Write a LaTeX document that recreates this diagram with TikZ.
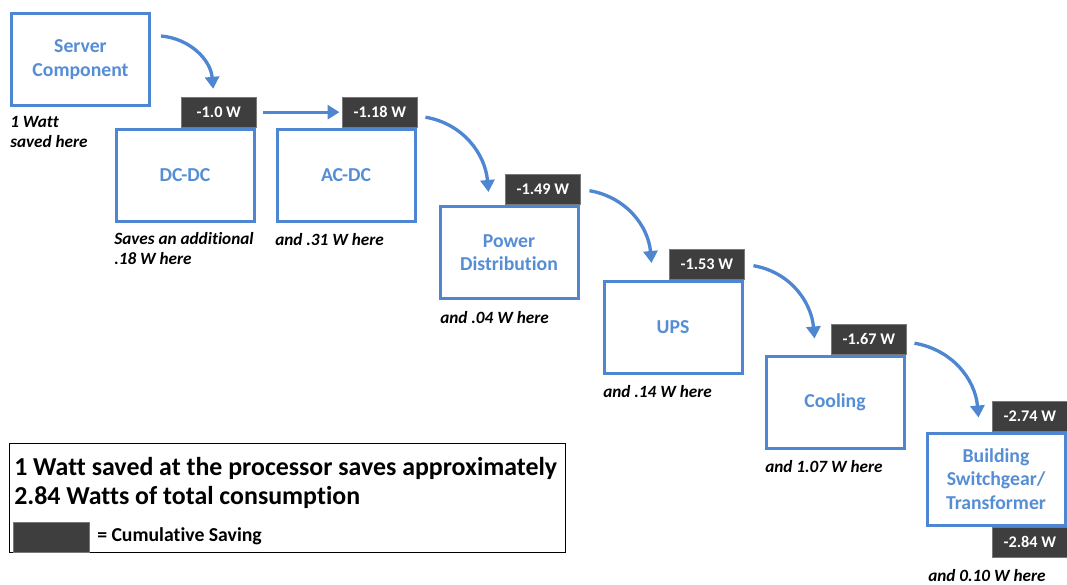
\documentclass[tikz,border=0pt]{standalone}
\usepackage{fontspec}
\setmainfont{Carlito}[Ligatures=NoCommon]
\usetikzlibrary{arrows.meta}
\definecolor{stageblue}{RGB}{79,134,210}
\definecolor{stagetext}{RGB}{86,142,214}
\definecolor{tagfill}{RGB}{62,62,62}
\definecolor{tagedge}{RGB}{120,120,120}
\tikzset{
  stage/.style={draw=stageblue, line width=2.25pt, fill=white,
    minimum width=103.5pt, minimum height=69pt, inner sep=2pt, align=center,
    text=stagetext, font=\fontsize{14.8}{17.6}\selectfont\bfseries},
  tag/.style={draw=tagedge, line width=0.5pt, fill=tagfill,
    minimum width=56pt, minimum height=22.5pt, inner sep=0pt,
    text=white, font=\fontsize{12.2}{14}\selectfont\bfseries},
  note/.style={inner sep=0pt, align=left, anchor=west,
    font=\fontsize{12.9}{15}\selectfont\bfseries\itshape},
  flow/.style={draw=stageblue, line width=2.5pt,
    -{Triangle[width=10.5pt,length=9pt]}},
  dropcurve/.style={out=-10, in=95},
}
\begin{document}
\begin{tikzpicture}[x=0.75pt, y=-0.75pt]
\useasboundingbox (0,0) rectangle (1067,585);

% power chain stages
\node[stage] (srv)  at (80.5,59.5)  {Server\\Component};
\node[stage] (dcdc) at (185,175)    {DC-DC};
\node[stage] (acdc) at (346,175)    {AC-DC};
\node[stage] (pd)   at (509,252.5)  {Power\\Distribution};
\node[stage] (ups)  at (673,327.5)  {UPS};
\node[stage] (cool) at (835,402)    {Cooling};
\node[stage] (bld)  at (996,479)    {Building\\Switchgear/\\Transformer};

% cumulative saving tags
\node[tag, anchor=south east] (t1) at ([shift={(1,0)}]dcdc.north east) {-1.0 W};
\node[tag, anchor=south east] (t2) at ([shift={(1,0)}]acdc.north east) {-1.18 W};
\node[tag, anchor=south east] (t3) at ([shift={(1,0)}]pd.north east)   {-1.49 W};
\node[tag, anchor=south east] (t4) at ([shift={(1,0)}]ups.north east)  {-1.53 W};
\node[tag, anchor=south east] (t5) at ([shift={(1,0)}]cool.north east) {-1.67 W};
\node[tag, anchor=south east] (t6) at ([shift={(1,0)}]bld.north east)  {-2.74 W};
\node[tag, anchor=north east] (t7) at ([shift={(1,0)}]bld.south east)  {-2.84 W};

% per-stage savings
\node[note] (n0) at (10,132)  {1 Watt\\saved here};
\node[note] (n1) at (114,249) {Saves an additional\\.18 W here};
\node[note] (n2) at (275,240) {and .31 W here};
\node[note] (n3) at (440,318) {and .04 W here};
\node[note] (n4) at (603,392) {and .14 W here};
\node[note] (n5) at (765,467) {and 1.07 W here};
\node[note] (n6) at (928,576) {and 0.10 W here};

% flow of savings
\draw[flow] ([shift={(10,-23.5)}]srv.east) to[out=-5, in=95] ([shift={(32,-8)}]t1.north west);
\draw[flow, shorten <=5pt, shorten >=2pt] (t1.east) -- (t2.west);
\draw[flow] ([shift={(8,5)}]t2.east) to[dropcurve] ([shift={(50,-13)}]pd.north west);
\draw[flow] ([shift={(9,1)}]t3.east) to[dropcurve] ([shift={(49,-17)}]ups.north west);
\draw[flow] ([shift={(9,1)}]t4.east) to[dropcurve] ([shift={(50,-16)}]cool.north west);
\draw[flow] ([shift={(8,4)}]t5.east) to[dropcurve] ([shift={(53,-14)}]bld.north west);

% legend
\node[draw=black, line width=1.1pt, minimum width=417pt, minimum height=81.4pt] (leg) at (287.5,498) {};
\node[inner sep=0pt, anchor=west, align=left, font=\fontsize{19.4}{22.2}\selectfont\bfseries] (legtxt) at (14,483)
  {1 Watt saved at the processor saves approximately\\2.84 Watts of total consumption};
\node[tag, minimum width=57pt] (swatch) at (51,537) {};
\node[inner sep=0pt, anchor=west, font=\fontsize{14.8}{16}\selectfont\bfseries] (legkey) at (97,536) {= Cumulative Saving};
\end{tikzpicture}
\end{document}
